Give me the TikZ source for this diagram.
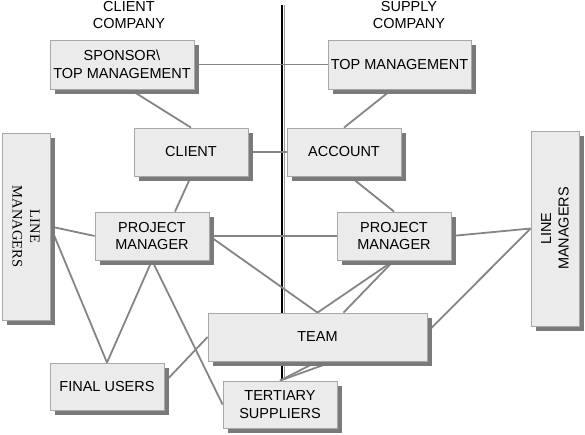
\documentclass[tikz,border=0pt]{standalone}
\usepackage{fontspec}
\setmainfont{Liberation Sans}
\newfontfamily\serifface{Liberation Serif}
\usetikzlibrary{shadows}
\pgfdeclarelayer{bg}
\pgfsetlayers{bg,main}
\definecolor{boxfill}{HTML}{EBEBEB}
\definecolor{boxline}{HTML}{A8A8A8}
\definecolor{shadowc}{HTML}{7A7A7A}
\definecolor{linkc}{HTML}{858585}
\definecolor{divgray}{HTML}{9A9A9A}
\begin{document}
\begin{tikzpicture}[x=1pt,y=-1pt,
  box/.style={draw=boxline, line width=0.8pt, fill=boxfill, inner sep=0pt, align=center,
    font=\fontsize{14.5}{17.5}\selectfont,
    drop shadow={shadow xshift=5pt, shadow yshift=-5pt, fill=shadowc, opacity=1}},
  link/.style={draw=linkc, line width=1.8pt},
  head/.style={align=center, inner sep=0pt, font=\fontsize{14.5}{17.5}\selectfont}]
\useasboundingbox (0,0) rectangle (585,434);

% headings
\node[head] (clienthead) at (129,15) {CLIENT\\COMPANY};
\node[head] (supplyhead) at (409,15) {SUPPLY\\COMPANY};

% boxes
\node[box, minimum width=144pt, minimum height=49pt] (sponsor) at (122,64.5) {SPONSOR\textbackslash\\TOP MANAGEMENT};
\node[box, minimum width=143pt, minimum height=49pt] (topm) at (399.5,64.5) {TOP MANAGEMENT};
\node[box, minimum width=114pt, minimum height=48pt] (client) at (191,152) {CLIENT};
\node[box, minimum width=114pt, minimum height=48pt] (account) at (344,152) {ACCOUNT};
\node[box, minimum width=114pt, minimum height=48pt] (pml) at (152,236) {PROJECT\\MANAGER};
\node[box, minimum width=114pt, minimum height=48pt] (pmr) at (394,236) {PROJECT\\MANAGER};
\node[box, minimum width=48pt, minimum height=187pt] (lml) at (26,226.5) {};
\node[box, minimum width=48pt, minimum height=195pt] (lmr) at (555,228.5) {};
\node[box, minimum width=219pt, minimum height=48pt] (team) at (317.5,337) {TEAM};
\node[box, minimum width=114pt, minimum height=47pt] (final) at (107,386.5) {FINAL USERS};
\node[box, minimum width=114pt, minimum height=47pt] (tert) at (280,404.5) {TERTIARY\\SUPPLIERS};

\node[head, rotate=-90, font=\serifface\fontsize{14.5}{17.5}\selectfont] (lmltext) at (lml) {LINE\\MANAGERS};
\node[head, rotate=90] (lmrtext) at (lmr) {LINE\\MANAGERS};

\begin{pgfonlayer}{bg}
  % dividing line between the companies
  \coordinate (divtopa) at (281.6,5);
  \coordinate (divbota) at (281.6,380);
  \coordinate (divtopb) at (284.4,5);
  \coordinate (divbotb) at (284.4,380);
  \draw[black, line width=2pt] (divtopa) -- (divbota);
  \draw[divgray, line width=1.4pt] (divtopb) -- (divbotb);

  % connectors
  \draw[link] (sponsor.east) -- (topm.west);
  \draw[link] ([xshift=8pt]sponsor.south) -- (client.north);
  \draw[link] (client.east) -- (account.west);
  \draw[link] (client.south) -- ([xshift=23pt]pml.north);
  \draw[link] ([xshift=-7.5pt]topm.south) -- (account.north);
  \draw[link] ([xshift=6pt]account.south) -- (pmr.north);
  \draw[link] (pml.east) -- (pmr.west);
  \draw[link] (lml.east) -- (pml.west);
  \draw[link] (lml.east) -- (final.north);
  \draw[link] (pml.south) -- (final.north);
  \draw[link] (pml.south) -- (tert.west);
  \draw[link] (pml.east) -- (team.north);
  \draw[link] (pmr.south) -- (team.north);
  \draw[link] (pmr.south) -- ([xshift=26pt]team.north);
  \draw[link] (pmr.east) -- (lmr.west);
  \draw[link] ([yshift=5pt]team.east) -- (lmr.west);
  \draw[link] (team.west) -- ([yshift=4pt]final.east);
  \draw[link] (tert.north) -- (team.south);
  \draw[link] (tert.north) -- ([xshift=16pt]team.south);
\end{pgfonlayer}
\end{tikzpicture}
\end{document}
